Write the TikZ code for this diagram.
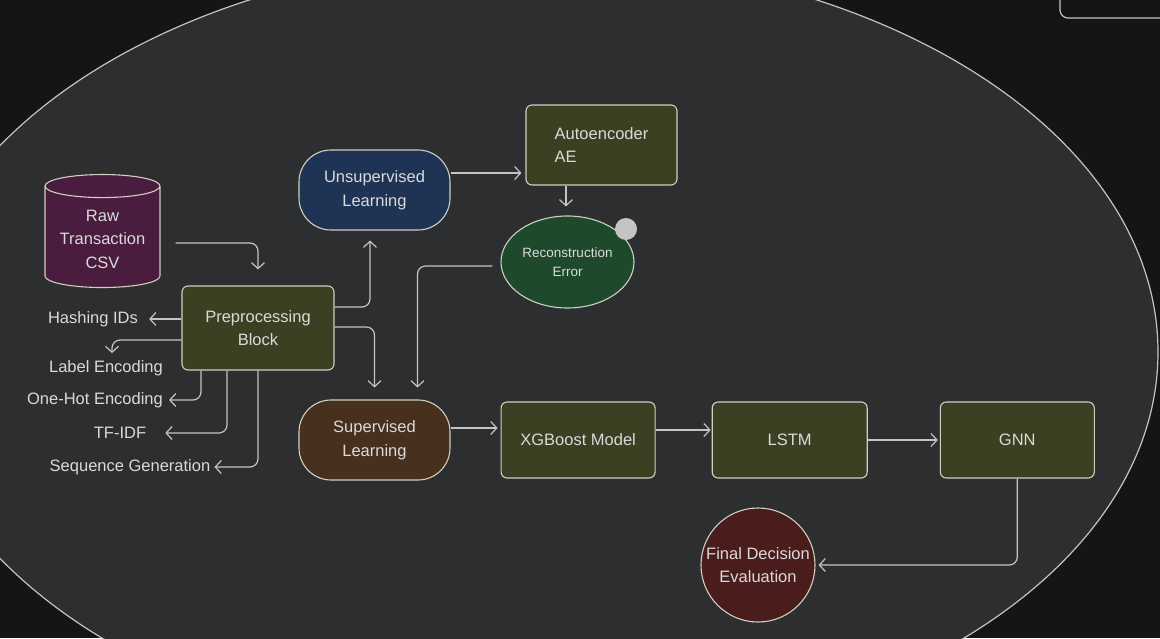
\documentclass[tikz,border=0pt]{standalone}
\usepackage{fontspec}
\setmainfont{Liberation Sans}
\usetikzlibrary{shapes.geometric,arrows.meta,positioning}
\definecolor{nightbg}{HTML}{141517}
\definecolor{canvasfill}{HTML}{2D2E30}
\definecolor{edgegray}{HTML}{C4C4C4}
\definecolor{inkgray}{HTML}{DADADA}
\definecolor{borderlight}{HTML}{CFCFC2}
\definecolor{olivefill}{HTML}{3D3F22}
\definecolor{plumfill}{HTML}{4A1D3E}
\definecolor{navyfill}{HTML}{1F3354}
\definecolor{forestfill}{HTML}{1E4A2B}
\definecolor{umberfill}{HTML}{48301F}
\definecolor{winefill}{HTML}{4A1C1C}

\begin{document}
\begin{tikzpicture}[
    x=1pt, y=1pt,
    font=\fontsize{16.5}{23.5}\selectfont,
    every node/.style={text=inkgray},
    procbox/.style={draw=borderlight, fill=olivefill, rounded corners=6pt, line width=1.1pt, align=center},
    pillbox/.style={draw=borderlight, rounded corners=32pt, line width=1.1pt, align=center, minimum width=151pt, minimum height=80pt},
    databox/.style={draw=borderlight, fill=plumfill, cylinder, shape border rotate=90, aspect=0.25, line width=1.1pt, align=center, minimum width=115pt, minimum height=113pt},
    roundnode/.style={draw=borderlight, line width=1.1pt, align=center, inner sep=0pt},
    lbl/.style={inner sep=1pt},
    arr/.style={-{Straight Barb[length=6pt,width=13pt]}, line width=1.2pt, draw=edgegray, rounded corners=8pt}
]
\useasboundingbox (0,0) rectangle (1160,638);
\clip (0,0) rectangle (1160,638);
\fill[nightbg] (0,0) rectangle (1160,638);

% Background canvas
\draw[edgegray, fill=canvasfill, line width=1.2pt] (533,286) ellipse [x radius=625, y radius=395];
\draw[edgegray, line width=1.2pt, rounded corners=8pt] (1060,700) -- (1060,620) -- (1220,620);

% Data source and preprocessing
\node[databox] (csv) at (102.5,399) {Raw\\Transaction\\CSV};
\node[procbox, minimum width=152pt, minimum height=84pt] (preproc) at (258,310) {Preprocessing\\Block};

% Preprocessing steps
\node[lbl] (hash) at (93,319) {Hashing IDs};
\node[lbl] (labelenc) at (106,270) {Label Encoding};
\node[lbl] (onehot) at (95,238) {One-Hot Encoding};
\node[lbl] (tfidf) at (120,205) {TF-IDF};
\node[lbl] (seqgen) at (130,171) {Sequence Generation};

% Unsupervised branch
\node[pillbox, fill=navyfill] (unsup) at (374.5,448) {Unsupervised\\Learning};
\node[procbox, align=left, minimum width=151pt, minimum height=80pt] (ae) at (601.5,493) {Autoencoder\\AE};
\node[roundnode, ellipse, fill=forestfill, minimum width=133pt, minimum height=92pt,
      font=\fontsize{13.5}{19}\selectfont] (recon) at (567.5,376) {Reconstruction\\Error};
\node[circle, fill=edgegray, minimum size=22pt, inner sep=0pt] (dot) at (626,409) {};

% Supervised pipeline
\node[pillbox, fill=umberfill] (sup) at (374.5,198) {Supervised\\Learning};
\node[procbox, right=50pt of sup, minimum width=154pt, minimum height=76pt] (xgb) {XGBoost Model};
\node[procbox, right=56pt of xgb, minimum width=155pt, minimum height=76pt] (lstm) {LSTM};
\node[procbox, right=72pt of lstm, minimum width=154pt, minimum height=76pt] (gnn) {GNN};
\node[roundnode, circle, fill=winefill, minimum size=114pt] (final) at (758,73) {Final Decision\\Evaluation};

% Arrows
\draw[arr] ([xshift=15pt,yshift=-4pt]csv.east) -| ([yshift=16pt]preproc.north);
\draw[arr] (preproc.west |- hash) -- ([xshift=10pt]hash.east);
\draw[arr] ([yshift=-12pt]preproc.west) -| ([xshift=6pt,yshift=6pt]labelenc.north);
\draw[arr] ([xshift=-57pt]preproc.south) |- ([xshift=5pt]onehot.east);
\draw[arr] ([xshift=-31pt]preproc.south) |- ([xshift=18pt]tfidf.east);
\draw[arr] (preproc.south) |- ([xshift=3pt]seqgen.east);
\draw[arr] ([yshift=21pt]preproc.east) -| ([xshift=-4.5pt,yshift=-10pt]unsup.south);
\draw[arr] ([yshift=1pt]preproc.east) -| ([yshift=12pt]sup.north);
\draw[arr] ([yshift=17pt]unsup.east) -- ([xshift=-4pt,yshift=-28pt]ae.west);
\draw[arr] ([xshift=-35.5pt]ae.south) -- ([xshift=-1.5pt,yshift=9pt]recon.north);
\draw[arr] ([xshift=-8pt,yshift=-4pt]recon.west) -| ([xshift=43pt,yshift=12pt]sup.north);
\draw[arr] ([yshift=12pt]sup.east) -- ([xshift=-3pt,yshift=12pt]xgb.west);
\draw[arr] ([yshift=10pt]xgb.east) -- ([xshift=-1pt,yshift=10pt]lstm.west);
\draw[arr] (lstm.east) -- ([xshift=-2pt]gnn.west);
\draw[arr] (gnn.south) |- ([xshift=3pt]final.east);

\end{tikzpicture}
\end{document}
